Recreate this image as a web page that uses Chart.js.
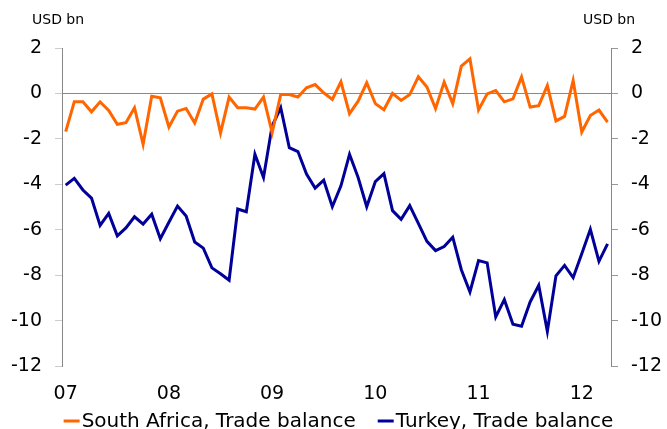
<!DOCTYPE html>
<html>
<head>
<meta charset="utf-8">
<script src="https://cdn.jsdelivr.net/npm/chart.js@4.4.1/dist/chart.umd.min.js"></script>
<style>
  body { margin: 0; overflow: hidden; background: #fff; }
  #wrap { width: 667px; height: 442px; }
</style>
</head>
<body>
<div id="wrap"><canvas id="chart"></canvas></div>
<script>
// monthly, Jan 2007 .. Apr 2012
const yearLabels = ["07", "08", "09", "10", "11", "12"];
const southAfrica = [
  -1.68, -0.37, -0.37, -0.81, -0.37, -0.75, -1.36, -1.29, -0.63, -2.24, -0.12, -0.19,
  -1.48, -0.78, -0.66, -1.30, -0.25, -0.02, -1.74, -0.16, -0.63, -0.63, -0.69, -0.16,
  -1.73, -0.05, -0.05, -0.16, 0.25, 0.39, 0.03, -0.26, 0.51, -0.89, -0.34, 0.47,
  -0.45, -0.72, 0.0, -0.31, -0.05, 0.73, 0.28, -0.67, 0.50, -0.45, 1.20, 1.52,
  -0.73, -0.02, 0.13, -0.37, -0.24, 0.73, -0.60, -0.54, 0.35, -1.21, -1.01, 0.57,
  -1.70, -0.97, -0.73, -1.26,
];
const turkey = [
  -4.04, -3.74, -4.25, -4.61, -5.81, -5.28, -6.27, -5.92, -5.43, -5.75, -5.32, -6.40,
  -5.67, -4.96, -5.40, -6.54, -6.81, -7.68, -7.94, -8.22, -5.09, -5.21, -2.68, -3.70,
  -1.43, -0.63, -2.39, -2.56, -3.55, -4.17, -3.82, -4.99, -4.07, -2.68, -3.70, -4.99,
  -3.88, -3.53, -5.16, -5.54, -4.94, -5.72, -6.51, -6.92, -6.74, -6.33, -7.76, -8.74,
  -7.36, -7.46, -9.84, -9.08, -10.16, -10.25, -9.18, -8.45, -10.47, -8.03, -7.57, -8.11,
  -7.06, -5.98, -7.39, -6.62,
];
const seriesNames = ["South Africa, Trade balance", "Turkey, Trade balance"];

const toPoints = (arr) => arr.map((v, i) => ({ x: i, y: v }));

const FONT = "'DejaVu Sans', Verdana, sans-serif";

const unitLabels = {
  id: "unitLabels",
  afterDraw(chart) {
    const ctx = chart.ctx;
    ctx.save();
    ctx.font = "14px " + FONT;
    ctx.fillStyle = "#000";
    ctx.textBaseline = "middle";
    ctx.textAlign = "left";
    ctx.fillText("USD bn", 32, 20);
    ctx.fillText("USD bn", 583, 20);
    ctx.restore();
  },
};

// legend with the dash right against the text
const dashLegend = {
  id: "dashLegend",
  afterDraw(chart) {
    const ctx = chart.ctx;
    ctx.save();
    ctx.font = "20px " + FONT;
    ctx.textBaseline = "alphabetic";
    ctx.textAlign = "left";
    const dash = 16, gap = 2, between = 22;
    const sets = chart.data.datasets;
    const widths = sets.map((d) => ctx.measureText(d.label).width);
    const total = widths.reduce((a, w) => a + dash + gap + w, 0) + between * (sets.length - 1);
    let x = chart.width / 2 + 5 - total / 2;
    sets.forEach((d, i) => {
      ctx.strokeStyle = d.borderColor;
      ctx.lineWidth = 3;
      ctx.beginPath();
      ctx.moveTo(x, 421);
      ctx.lineTo(x + dash, 421);
      ctx.stroke();
      ctx.fillStyle = "#000";
      ctx.fillText(d.label, x + dash + gap, 427);
      x += dash + gap + widths[i] + between;
    });
    ctx.restore();
  },
};

const yTicks = {
  font: { family: FONT, size: 19 },
  color: "#000",
  stepSize: 2,
};

new Chart(document.getElementById("chart"), {
  type: "line",
  data: {
    datasets: [
      {
        label: seriesNames[0],
        data: toPoints(southAfrica),
        borderColor: "#ff6600",
        backgroundColor: "#ff6600",
        borderWidth: 3,
        pointRadius: 0,
        tension: 0,
      },
      {
        label: seriesNames[1],
        data: toPoints(turkey),
        borderColor: "#000099",
        backgroundColor: "#000099",
        borderWidth: 3,
        pointRadius: 0,
        tension: 0,
      },
    ],
  },
  options: {
    responsive: true,
    maintainAspectRatio: false,
    animation: false,
    layout: { padding: { top: 48, left: 0, right: 0, bottom: 40 } },
    scales: {
      x: {
        type: "linear",
        min: -0.43,
        max: 63.4,
        grid: { display: false },
        border: { display: false },
        afterFit: (scale) => { scale.height = 36; },
        afterBuildTicks: (scale) => {
          scale.ticks = yearLabels.map((_, i) => ({ value: i * 12 }));
        },
        ticks: {
          font: { family: FONT, size: 19 },
          color: "#000",
          padding: 9,
          maxRotation: 0,
          callback: (v) => yearLabels[v / 12],
        },
      },
      y: {
        position: "left",
        min: -12,
        max: 2,
        afterFit: (scale) => { scale.width = 62; },
        border: { display: true, color: "#888", width: 1 },
        grid: {
          color: (c) => (c.tick && c.tick.value === 0 ? "#888" : "rgba(0,0,0,0)"),
          tickColor: "#ccc",
          tickLength: 7,
        },
        ticks: { ...yTicks, padding: 13 },
      },
      y2: {
        position: "right",
        min: -12,
        max: 2,
        afterFit: (scale) => { scale.width = 56; },
        border: { display: true, color: "#888", width: 1 },
        grid: { drawOnChartArea: false, tickColor: "#999", tickLength: 7 },
        ticks: { ...yTicks, padding: 13 },
      },
    },
    plugins: {
      legend: { display: false },
      tooltip: { enabled: false },
    },
  },
  plugins: [unitLabels, dashLegend],
});
</script>
</body>
</html>
